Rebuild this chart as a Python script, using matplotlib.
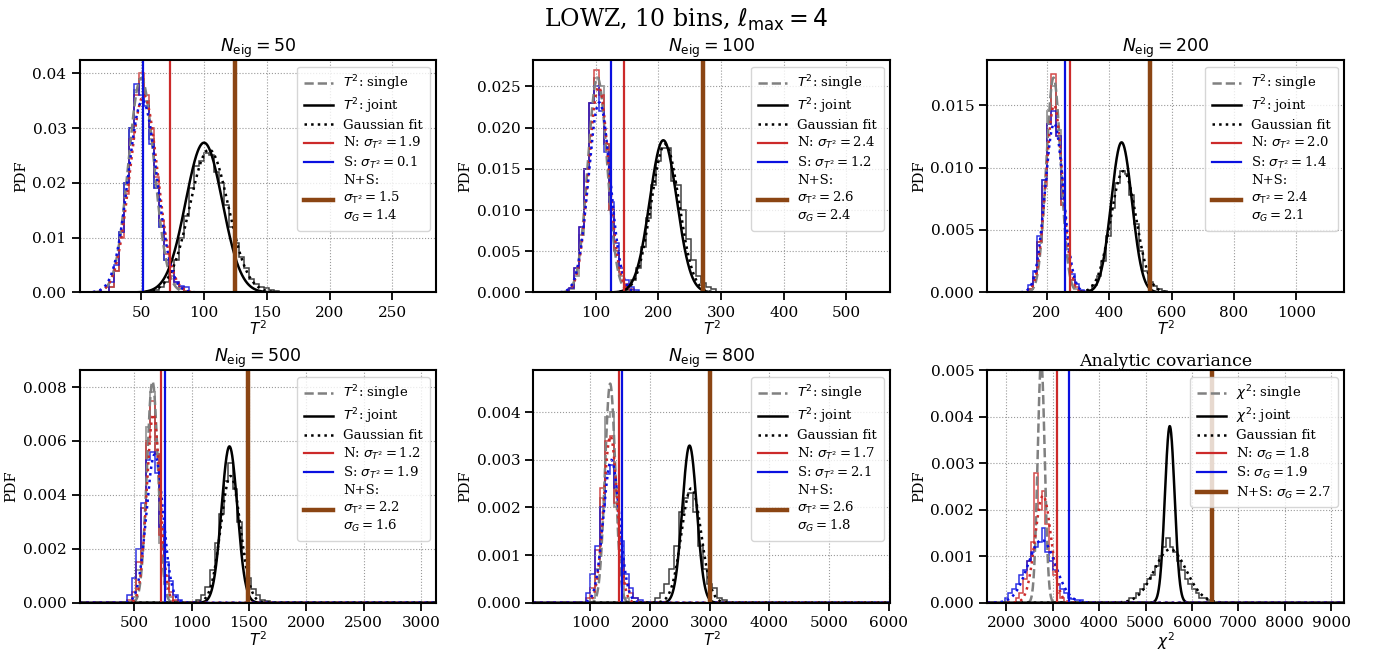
import numpy as np
import matplotlib
matplotlib.use("Agg")
import matplotlib.pyplot as plt
from matplotlib.ticker import MultipleLocator

plt.rcParams['font.family'] = ['DejaVu Serif']
plt.rcParams['mathtext.fontset'] = 'dejavusans'

# panel titles and sigma labels
titles = [r"$N_{\rm eig} = 50$", r"$N_{\rm eig} = 100$", r"$N_{\rm eig} = 200$",
          r"$N_{\rm eig} = 500$", r"$N_{\rm eig} = 800$", "Analytic covariance"]
n_sig = ["1.9", "2.4", "2.0", "1.2", "1.7", "1.8"]
s_sig = ["0.1", "1.2", "1.4", "1.9", "2.1", "1.9"]
ns_sig_t = ["1.5", "2.6", "2.4", "2.2", "2.6", None]
ns_sig_g = ["1.4", "2.4", "2.1", "1.6", "1.8", "2.7"]

# observed values (vertical lines)
n_obs = [73, 146, 275, 733, 1480, 3095]
s_obs = [51.5, 125, 258, 768, 1525, 3340]
ns_obs = [124.5, 271, 530, 1489, 2998, 6425]

# analytic / fitted distributions (mean, sigma)
single_mu = [50, 103, 222, 660, 1330, 2750]
single_sd = [10.2, 15.3, 23.2, 48.6, 86.7, 76.7]
joint_mu = [100, 208, 440, 1330, 2660, 5520]
joint_sd = [14.6, 21.6, 33.2, 68.8, 120.9, 105]
nfit_mu = [52, 105, 224, 668, 1335, 2790]
nfit_sd = [11.1, 16.0, 26.6, 57.0, 114, 173]
sfit_mu = [51, 106, 224, 680, 1350, 2760]
sfit_sd = [11.4, 17.3, 29.5, 72.5, 133, 295]
jfit_mu = [104, 211, 446, 1340, 2690, 5530]
jfit_sd = [15.3, 22.2, 41.1, 84.9, 166, 347]

# histograms: first bin edge, bin width, heights
bin_w = [4, 8, 15, 40, 80, 80]
lo_x0 = [24, 58, 140, 440, 920, 1960]
hi_x0 = [60, 140, 330, 1040, 2080, 4640]
n_hist = [
    [0.001, 0.004, 0.010, 0.018, 0.028, 0.036, 0.040, 0.036, 0.030, 0.021, 0.013, 0.007, 0.004, 0.002, 0.001, 0.0003],
    [0.0005, 0.003, 0.008, 0.015, 0.023, 0.027, 0.024, 0.018, 0.010, 0.005, 0.0025, 0.001, 0.0004, 0.0001],
    [0.0003, 0.0012, 0.004, 0.0085, 0.0135, 0.0175, 0.0125, 0.007, 0.003, 0.001, 0.0004, 0.0001],
    [0.0001, 0.0004, 0.0015, 0.0035, 0.006, 0.0075, 0.0055, 0.0025, 0.001, 0.0004, 0.0001, 0.0],
    [0.0001, 0.0003, 0.0011, 0.0024, 0.0034, 0.0035, 0.0021, 0.0009, 0.0004, 0.0002, 0.0001, 0.0],
    [0.0, 0.0, 0.0, 0.0001, 0.0002, 0.0005, 0.0009, 0.0013, 0.0028, 0.0020, 0.0024, 0.0017, 0.0011, 0.0006, 0.0002, 0.0001],
]
s_hist = [
    [0.002, 0.005, 0.011, 0.020, 0.030, 0.038, 0.036, 0.034, 0.027, 0.019, 0.012, 0.006, 0.004, 0.002, 0.0012, 0.001],
    [0.0006, 0.003, 0.008, 0.015, 0.023, 0.025, 0.022, 0.017, 0.011, 0.006, 0.003, 0.0015, 0.0007, 0.0003],
    [0.0006, 0.0017, 0.0045, 0.009, 0.0135, 0.0145, 0.0125, 0.0075, 0.0035, 0.0015, 0.0007, 0.0002],
    [0.0003, 0.0009, 0.002, 0.0037, 0.0053, 0.0056, 0.0048, 0.0028, 0.0015, 0.0008, 0.0003, 0.0001],
    [0.0002, 0.0006, 0.0012, 0.002, 0.0027, 0.0029, 0.0024, 0.0013, 0.0006, 0.0003, 0.0001, 0.00005],
    [0.0001, 0.0002, 0.0003, 0.0004, 0.0006, 0.0007, 0.0009, 0.0011, 0.0012, 0.0013, 0.0016, 0.0011,
     0.0009, 0.0007, 0.0004, 0.0003, 0.0002, 0.0001, 0.00008, 0.00005, 0.00005, 0.0],
]
single_hist = [
    [0.001, 0.004, 0.011, 0.020, 0.030, 0.037, 0.039, 0.035, 0.028, 0.019, 0.012, 0.006, 0.003, 0.0015, 0.0007, 0.0003],
    [0.0004, 0.002, 0.007, 0.015, 0.023, 0.026, 0.025, 0.018, 0.010, 0.005, 0.002, 0.0008, 0.0003, 0.0001],
    [0.0003, 0.0012, 0.004, 0.009, 0.0145, 0.0165, 0.013, 0.007, 0.0028, 0.001, 0.0003, 0.0001],
    [0.0, 0.0002, 0.0012, 0.0035, 0.0065, 0.0078, 0.0055, 0.0022, 0.0007, 0.0002, 0.00005, 0.0],
    [0.0, 0.0001, 0.0007, 0.0022, 0.0039, 0.0040, 0.0020, 0.0006, 0.0001, 0.0, 0.0, 0.0],
    None,
]
joint_hist = [
    [0.0005, 0.001, 0.002, 0.004, 0.006, 0.010, 0.014, 0.019, 0.023, 0.024, 0.0255, 0.025, 0.022,
     0.020, 0.016, 0.012, 0.009, 0.0065, 0.0045, 0.0025, 0.0015, 0.001, 0.0008, 0.0004, 0.0002],
    [0.0002, 0.0008, 0.0015, 0.003, 0.0055, 0.009, 0.013, 0.016, 0.0175, 0.0175, 0.0135, 0.013,
     0.010, 0.0065, 0.004, 0.002, 0.0012, 0.0007, 0.0004, 0.0001],
    [0.0002, 0.0006, 0.0013, 0.0025, 0.0045, 0.0068, 0.0088, 0.0097, 0.0095, 0.0078, 0.0055,
     0.0033, 0.0017, 0.0008, 0.0005, 0.0003, 0.0001, 0.00005],
    [0.0001, 0.0003, 0.0006, 0.0012, 0.0022, 0.0033, 0.0045, 0.0052, 0.0042, 0.0030, 0.0018,
     0.0009, 0.0005, 0.0003, 0.0001, 0.00005, 0.0],
    [0.0001, 0.0002, 0.0004, 0.0007, 0.0012, 0.0019, 0.0022, 0.0023, 0.0019, 0.0012, 0.0007,
     0.0004, 0.0003, 0.0001, 0.00005, 0.0],
    [0.0001, 0.0001, 0.0002, 0.0003, 0.0004, 0.0005, 0.0006, 0.0008, 0.0010, 0.0012, 0.0014,
     0.0012, 0.0011, 0.0009, 0.0007, 0.0005, 0.0004, 0.0003, 0.0002, 0.0001, 0.0001, 0.00005, 0.00003],
]

xlims = [(1, 285), (1, 570), (10, 1153), (26, 3132), (45, 6025), (1590, 9278)]
ylims = [0.0424, 0.0282, 0.0186, 0.00862, 0.00488, 0.005]
ysteps = [0.01, 0.005, 0.005, 0.002, 0.001, 0.001]

RED = '#cc2a2a'
BLUE = '#0a10e0'
BROWN = '#8b4513'


def gauss(x, mu, sd):
    return np.exp(-0.5 * ((x - mu) / sd) ** 2) / (np.sqrt(2 * np.pi) * sd)


fig, axes = plt.subplots(2, 3, figsize=(13.73, 6.53), dpi=100)
fig.subplots_adjust(left=0.058, right=0.979, top=0.908, bottom=0.077, wspace=0.272, hspace=0.335)

for i, ax in enumerate(axes.flat):
    w = bin_w[i]
    lo_edges = lo_x0[i] + w * np.arange(len(n_hist[i]) + 1)
    s_edges = lo_x0[i] + w * np.arange(len(s_hist[i]) + 1)
    hi_edges = hi_x0[i] + w * np.arange(len(joint_hist[i]) + 1)

    if single_hist[i] is not None:
        sg_edges = lo_x0[i] + w * np.arange(len(single_hist[i]) + 1)
        ax.stairs(single_hist[i], sg_edges, color='gray', lw=1.3, alpha=0.8)
    ax.stairs(n_hist[i], lo_edges, color=RED, lw=1.1, alpha=0.85)
    ax.stairs(s_hist[i], s_edges, color=BLUE, lw=1.1, alpha=0.85)
    ax.stairs(joint_hist[i], hi_edges, color='black', lw=1.1, alpha=0.75)

    x = np.linspace(xlims[i][0], xlims[i][1], 1500)
    stat = r"\chi^2" if i == 5 else "T^2"
    ax.plot(x, gauss(x, single_mu[i], single_sd[i]), color='gray', ls='--', lw=1.8,
            label=f"${stat}$: single")
    ax.plot(x, gauss(x, joint_mu[i], joint_sd[i]), color='black', lw=1.8,
            label=f"${stat}$: joint")
    ax.plot(x, gauss(x, jfit_mu[i], jfit_sd[i]), color='black', ls=':', lw=1.8,
            label="Gaussian fit")
    ax.plot(x, gauss(x, nfit_mu[i], nfit_sd[i]), color=RED, ls=':', lw=1.8)
    ax.plot(x, gauss(x, sfit_mu[i], sfit_sd[i]), color=BLUE, ls=':', lw=1.8)

    if i == 5:
        n_lab = r"N: $\sigma_G = $" + n_sig[i]
        s_lab = r"S: $\sigma_G = $" + s_sig[i]
        ns_lab = r"N+S: $\sigma_G = $" + ns_sig_g[i]
    else:
        n_lab = r"N: $\sigma_{T^2} = $" + n_sig[i]
        s_lab = r"S: $\sigma_{T^2} = $" + s_sig[i]
        ns_lab = "N+S:\n" + r"$\sigma_{\rm T^2} = $" + ns_sig_t[i] + "\n" + r"$\sigma_G = $" + ns_sig_g[i]
    ax.axvline(n_obs[i], color=RED, lw=1.6, label=n_lab)
    ax.axvline(s_obs[i], color=BLUE, lw=1.6, label=s_lab)
    ax.axvline(ns_obs[i], color=BROWN, lw=3.2, label=ns_lab)

    ax.set_xlim(*xlims[i])
    ax.set_ylim(0, ylims[i])
    ax.yaxis.set_major_locator(MultipleLocator(ysteps[i]))
    if i == 5:
        ax.xaxis.set_major_locator(MultipleLocator(1000))
    ax.set_title(titles[i], fontsize=12.5, pad=3)
    ax.set_ylabel("PDF", fontsize=10.5, labelpad=3)
    ax.set_xlabel(f"${stat}$", fontsize=11, labelpad=0)
    ax.grid(True, color='#999999', ls=':', lw=0.8)
    ax.tick_params(direction='out', length=6, width=1.3, labelsize=11)
    for sp in ax.spines.values():
        sp.set_linewidth(1.5)
    ax.legend(loc='upper right', fontsize=9.5, handlelength=2.2, labelspacing=0.25,
              borderpad=0.5)

fig.suptitle(r"LOWZ, 10 bins, $\ell_{\rm max} = 4$", fontsize=17, y=0.99)
fig.savefig("out.png", dpi=100)
